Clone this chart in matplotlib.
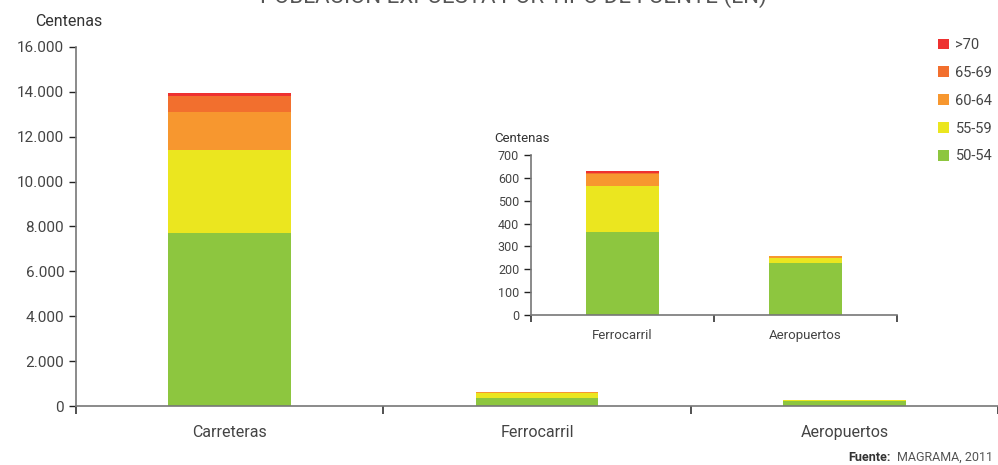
import numpy as np
import matplotlib.pyplot as plt

plt.rcParams['font.family'] = ['Roboto', 'DejaVu Sans']

# data (centenas de personas)
fuentes = ['Carreteras', 'Ferrocarril', 'Aeropuertos']
rangos = ['50-54', '55-59', '60-64', '65-69', '>70']
v_50_54 = [7710, 365, 226]
v_55_59 = [3700, 200, 22]
v_60_64 = [1690, 50, 10]
v_65_69 = [715, 7, 0]
v_70 = [135, 6, 0]
series = [v_50_54, v_55_59, v_60_64, v_65_69, v_70]
colores = ['#8DC63F', '#EBE61F', '#F7972F', '#F26F2E', '#EE3130']

inset_fuentes = fuentes[1:]

gray = '#555555'
spine = '#777777'

fig = plt.figure(figsize=(9.98, 4.65), dpi=100)
W, H = 998, 465


def px_axes(x0, y0, x1, y1):
    return fig.add_axes([x0 / W, 1 - y1 / H, (x1 - x0) / W, (y1 - y0) / H])


def style(ax, fs, xfs, pad):
    for s in ['top', 'right']:
        ax.spines[s].set_visible(False)
    for s in ['left', 'bottom']:
        ax.spines[s].set_color(spine)
        ax.spines[s].set_linewidth(1.2)
    ax.tick_params(axis='y', colors='#222222', labelcolor='#444444', labelsize=fs, length=5, width=1)
    ax.tick_params(axis='x', which='major', length=0, labelcolor='#444444', labelsize=xfs, pad=pad)
    ax.tick_params(axis='x', which='minor', length=6, width=1.2, colors='#333333')


def stacked(ax, cats, vals_list):
    x = np.arange(len(cats))
    bottom = np.zeros(len(cats))
    handles = []
    for vals, c, lab in zip(vals_list, colores, rangos):
        v = np.array(vals[-len(cats):], dtype=float)
        h = ax.bar(x, v, 0.4, bottom=bottom, color=c, label=lab, zorder=2)
        handles.append(h)
        bottom += v
    ax.set_xticks(x)
    ax.set_xticklabels(cats)
    ax.set_xticks(np.arange(len(cats) + 1) - 0.5, minor=True)
    ax.set_xlim(-0.5, len(cats) - 0.5)
    return handles


# main chart
ax = px_axes(76, 47, 998, 406)
handles = stacked(ax, fuentes, series)
ax.set_ylim(0, 16000)
ax.set_yticks(np.arange(0, 16001, 2000))
ax.set_yticklabels([f'{int(v):,}'.replace(',', '.') for v in np.arange(0, 16001, 2000)])
style(ax, 11, 11.5, 14)

# inset
ax2 = px_axes(531, 155, 897, 315)
stacked(ax2, inset_fuentes, series)
ax2.set_ylim(0, 700)
ax2.set_yticks(np.arange(0, 701, 100))
style(ax2, 9, 9.5, 10)
ax2.tick_params(axis='x', which='minor', length=5)

# legend
leg = fig.legend(handles[::-1], rangos[::-1], loc='upper left',
                 bbox_to_anchor=(938 / W, 1 - 38 / H), frameon=False,
                 borderaxespad=0, borderpad=0,
                 fontsize=10.5, handlelength=0.75, handleheight=0.75,
                 labelspacing=0.95, handletextpad=0.45)
for t in leg.get_texts():
    t.set_color('#444444')

# texts
fig.text(513 / W, 1 - 3 / H, 'POBLACIÓN EXPUESTA POR TIPO DE FUENTE (LN)',
         ha='center', va='baseline', fontsize=16, color=gray)
fig.text(35 / W, 1 - 22 / H, 'Centenas', ha='left', va='center', fontsize=11.5, color='#333333')
fig.text(494 / W, 1 - 138 / H, 'Centenas', ha='left', va='center', fontsize=9.5, color='#333333')
fig.text(993 / W, 1 - 457 / H, 'MAGRAMA, 2011', ha='right', va='center', fontsize=9, color=gray)
fig.text(848 / W, 1 - 457 / H, 'Fuente:', ha='left', va='center', fontsize=9,
         color='#333333', fontweight='bold')

fig.savefig('out.png', dpi=100)
